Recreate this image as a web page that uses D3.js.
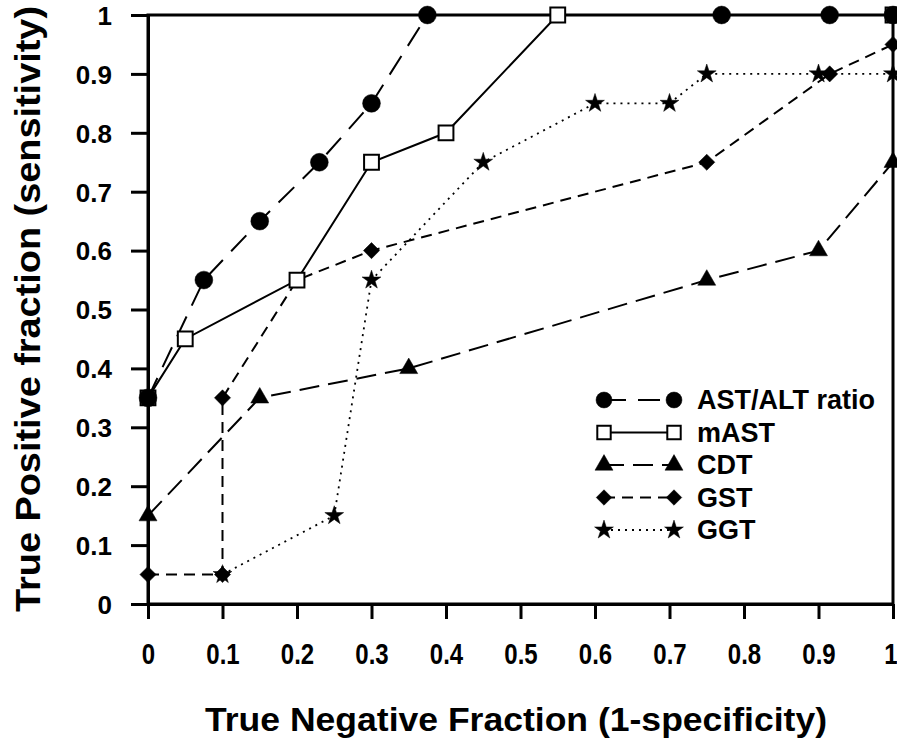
<!DOCTYPE html>
<html>
<head>
<meta charset="UTF-8">
<title>ROC curves</title>
<style>
  body { margin: 0; background: #fff; }
  text { font-family: "Liberation Sans", Arial, sans-serif; font-weight: bold; fill: #000; }
</style>
</head>
<body>
<script src="https://cdn.jsdelivr.net/npm/d3@7"></script>
<script>

// Tick values / labels
var xTicks = [0, 0.1, 0.2, 0.3, 0.4, 0.5, 0.6, 0.7, 0.8, 0.9, 1];
var xTickLabels = ["0", "0.1", "0.2", "0.3", "0.4", "0.5", "0.6", "0.7", "0.8", "0.9", "1"];
var yTicks = [0, 0.1, 0.2, 0.3, 0.4, 0.5, 0.6, 0.7, 0.8, 0.9, 1];
var yTickLabels = ["0", "0.1", "0.2", "0.3", "0.4", "0.5", "0.6", "0.7", "0.8", "0.9", "1"];

// Series (1-specificity, sensitivity)
var seriesNames = ["AST/ALT ratio", "mAST", "CDT", "GST", "GGT"];
var astAltX = [0, 0.075, 0.15, 0.23, 0.3, 0.375, 0.77, 0.915, 1];
var astAltY = [0.35, 0.55, 0.65, 0.75, 0.85, 1, 1, 1, 1];
var mastX = [0, 0.05, 0.2, 0.3, 0.4, 0.55, 1];
var mastY = [0.35, 0.45, 0.55, 0.75, 0.8, 1, 1];
var cdtX = [0, 0.15, 0.35, 0.75, 0.9, 1];
var cdtY = [0.15, 0.35, 0.4, 0.55, 0.6, 0.75];
var gstX = [0, 0.1, 0.1, 0.2, 0.3, 0.75, 0.915, 1];
var gstY = [0.05, 0.05, 0.35, 0.55, 0.6, 0.75, 0.9, 0.95];
var ggtX = [0.1, 0.25, 0.3, 0.45, 0.6, 0.7, 0.75, 0.9, 1];
var ggtY = [0.05, 0.15, 0.55, 0.75, 0.85, 0.85, 0.9, 0.9, 0.9];

var svgWidth = 897, svgHeight = 740;
var svg = d3.select("body").append("svg")
            .attr("width", svgWidth)
            .attr("height", svgHeight);

var xScale = d3.scaleLinear().domain([0, 1]).range([148, 893]);
var yScale = d3.scaleLinear().domain([0, 1]).range([604, 15]);

function zip(xs, ys) { return xs.map((v, i) => ({x: v, y: ys[i]})); }

// marker shapes
var symbolTypes = {
  circle: d3.symbolCircle,
  square: d3.symbolSquare,
  triangle: d3.symbolTriangle,
  diamond: d3.symbolSquare,   // rotated 45 deg when drawn
  star: d3.symbolStar
};
var plotSizes = {circle: 250, square: 220, triangle: 140, diamond: 130, star: 110};
var legendSizes = {circle: 200, square: 180, triangle: 140, diamond: 120, star: 110};

var series = [
  {name: seriesNames[4], data: zip(ggtX, ggtY), dash: "2,5", width: 1.8, shape: "star", fill: "#000"},
  {name: seriesNames[2], data: zip(cdtX, cdtY), dash: "20,9", width: 2, shape: "triangle", fill: "#000"},
  {name: seriesNames[3], data: zip(gstX, gstY), dash: "11,7", width: 2, shape: "diamond", fill: "#000"},
  {name: seriesNames[1], data: zip(mastX, mastY), dash: null, width: 2, shape: "square", fill: "#fff"},
  {name: seriesNames[0], data: zip(astAltX, astAltY), dash: "22,12", width: 2, shape: "circle", fill: "#000"}
];

function markerTransform(shape, px, py) {
  return "translate(" + px + "," + py + ")" + (shape == "diamond" ? " rotate(45)" : "");
}

// axes
var xAxis = d3.axisBottom(xScale)
              .tickValues(xTicks)
              .tickFormat((d, i) => xTickLabels[i])
              .tickSize(15)
              .tickSizeOuter(0);
var yAxis = d3.axisLeft(yScale)
              .tickValues(yTicks)
              .tickFormat((d, i) => yTickLabels[i])
              .tickSize(17)
              .tickSizeOuter(0)
              .tickPadding(19);

var gx = svg.append("g").attr("transform", "translate(0," + yScale(0) + ")").call(xAxis);
gx.selectAll("text")
  .attr("y", 60).attr("dy", null)
  .attr("font-size", 30)
  .attr("transform", "scale(0.8,1)")
  .style("font-family", '"Liberation Sans", Arial, sans-serif');
// last label sits at the page edge, keep it inside
gx.selectAll("text").filter((d, i) => i == xTicks.length - 1)
  .attr("text-anchor", "end")
  .attr("x", 4 / 0.8);

var gy = svg.append("g").attr("transform", "translate(" + xScale(0) + ",0)").call(yAxis);
gy.selectAll("text")
  .attr("font-size", 26)
  .attr("dy", "0.36em")
  .style("font-family", '"Liberation Sans", Arial, sans-serif');

svg.selectAll(".domain, .tick line").attr("stroke", "#000").attr("stroke-width", 3);

// frame: top and right edges
svg.append("rect")
   .attr("x", xScale(0)).attr("y", yScale(1))
   .attr("width", xScale(1) - xScale(0))
   .attr("height", yScale(0) - yScale(1))
   .attr("fill", "none").attr("stroke", "#000").attr("stroke-width", 3);

// lines
series.forEach(function(s) {
  var line = d3.line().x(d => xScale(d.x)).y(d => yScale(d.y));
  svg.append("path")
     .datum(s.data)
     .attr("d", line)
     .attr("fill", "none")
     .attr("stroke", "#000")
     .attr("stroke-width", s.width)
     .attr("stroke-dasharray", s.dash);
});

// markers
series.forEach(function(s) {
  svg.append("g").selectAll("path")
     .data(s.data)
     .enter()
     .append("path")
     .attr("d", d3.symbol().type(symbolTypes[s.shape]).size(plotSizes[s.shape]))
     .attr("transform", d => markerTransform(s.shape, xScale(d.x), yScale(d.y)))
     .attr("fill", s.fill)
     .attr("stroke", "#000")
     .attr("stroke-width", s.shape == "square" ? 2 : 0.5);
});

// axis titles
svg.append("text")
   .attr("x", 516).attr("y", 731)
   .attr("text-anchor", "middle")
   .attr("font-size", 34)
   .attr("textLength", 622)
   .attr("lengthAdjust", "spacingAndGlyphs")
   .text("True Negative Fraction (1-specificity)");

svg.append("text")
   .attr("transform", "translate(40,309) rotate(-90)")
   .attr("text-anchor", "middle")
   .attr("font-size", 35)
   .attr("textLength", 606)
   .attr("lengthAdjust", "spacingAndGlyphs")
   .text("True Positive fraction (sensitivity)");

// legend (same order as reference)
var legendOrder = [4, 3, 1, 2, 0];
var legend = svg.append("g");
legendOrder.forEach(function(si, i) {
  var s = series[si];
  var ly = 400 + i * 32.5;
  var row = legend.append("g").attr("transform", "translate(0," + ly + ")");
  row.append("line")
     .attr("x1", 604).attr("x2", 674)
     .attr("y1", 0).attr("y2", 0)
     .attr("stroke", "#000")
     .attr("stroke-width", s.width)
     .attr("stroke-dasharray", s.dash);
  [604, 674].forEach(function(mx) {
    row.append("path")
       .attr("d", d3.symbol().type(symbolTypes[s.shape]).size(legendSizes[s.shape]))
       .attr("transform", markerTransform(s.shape, mx, 0))
       .attr("fill", s.fill)
       .attr("stroke", "#000")
       .attr("stroke-width", s.shape == "square" ? 2 : 0.5);
  });
  row.append("text")
     .attr("x", 697).attr("y", 9)
     .attr("font-size", 27)
     .text(s.name);
});

</script>
</body>
</html>
